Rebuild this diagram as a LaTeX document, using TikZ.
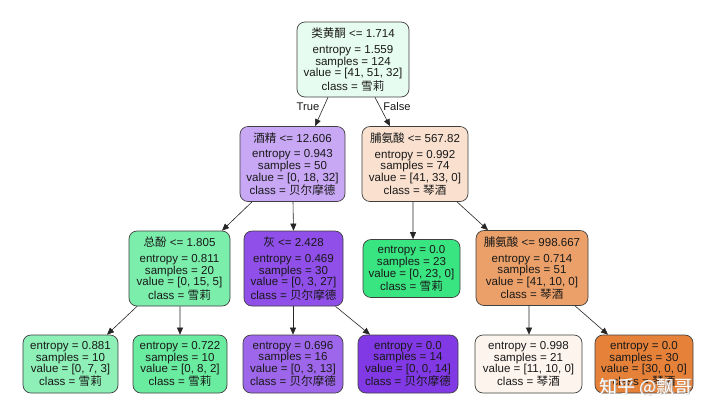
\documentclass[tikz,border=0pt]{standalone}
\usepackage{fontspec}
\setmainfont{Liberation Sans}
\newfontfamily\cjk{Noto Sans CJK SC}
\usetikzlibrary{arrows.meta,calc}
\newcommand\zhtxt[1]{{\cjk #1}}
\definecolor{cRoot}{HTML}{E7FCF0}
\definecolor{cJJ}{HTML}{C8A8F4}
\definecolor{cPA}{HTML}{F9E0CF}
\definecolor{cZF}{HTML}{7BEEAB}
\definecolor{cHui}{HTML}{8F4FE8}
\definecolor{cGreen}{HTML}{39E581}
\definecolor{cPB}{HTML}{EBA069}
\definecolor{cLa}{HTML}{8EF0B7}
\definecolor{cLb}{HTML}{6AECA0}
\definecolor{cLc}{HTML}{9E67EB}
\definecolor{cPurple}{HTML}{8139E5}
\definecolor{cLe}{HTML}{FDF4ED}
\definecolor{cOrange}{HTML}{E58139}
\tikzset{
  tn/.style={draw=black!75, line width=0.7bp, rounded corners=8bp, align=center,
    font=\fontsize{11.6}{11.8}\selectfont, inner sep=0pt, text=black!90},
  big/.style={minimum height=75bp},
  leaf/.style={minimum height=58bp},
  ed/.style={-{Triangle[length=7bp,width=6bp]}, line width=0.6bp, draw=black!85},
  elab/.style={font=\fontsize{11.2}{11}\selectfont, inner sep=0pt, text=black!90},
}
\begin{document}
\begin{tikzpicture}[x=1bp,y=-1bp]
\useasboundingbox[fill=white] (0,0) rectangle (720,416);
% level 1
\node[tn,big,fill=cRoot,minimum width=112bp] (root) at (353,59.5)
  {\zhtxt{类黄酮} <= 1.714\\[4bp] entropy = 1.559\\ samples = 124\\ value = [41, 51, 32]\\ class = \zhtxt{雪莉}};
% level 2
\node[tn,big,fill=cJJ,minimum width=105bp] (jj) at (292.5,164)
  {\zhtxt{酒精} <= 12.606\\[4bp] entropy = 0.943\\ samples = 50\\ value = [0, 18, 32]\\ class = \zhtxt{贝尔摩德}};
\node[tn,big,fill=cPA,minimum width=106bp] (pa) at (415,164)
  {\zhtxt{脯氨酸} <= 567.82\\[4bp] entropy = 0.992\\ samples = 74\\ value = [41, 33, 0]\\ class = \zhtxt{琴酒}};
% level 3
\node[tn,big,fill=cZF,minimum width=101bp] (zf) at (179.5,268.5)
  {\zhtxt{总酚} <= 1.805\\[4bp] entropy = 0.811\\ samples = 20\\ value = [0, 15, 5]\\ class = \zhtxt{雪莉}};
\node[tn,big,fill=cHui,minimum width=99bp] (hui) at (293.5,268.5)
  {\zhtxt{灰} <= 2.428\\[4bp] entropy = 0.469\\ samples = 30\\ value = [0, 3, 27]\\ class = \zhtxt{贝尔摩德}};
\node[tn,leaf,fill=cGreen,minimum width=97bp] (g23) at (411.5,268.5)
  {entropy = 0.0\\ samples = 23\\ value = [0, 23, 0]\\ class = \zhtxt{雪莉}};
\node[tn,big,fill=cPB,minimum width=112bp] (pb) at (532,268)
  {\zhtxt{脯氨酸} <= 998.667\\[4bp] entropy = 0.714\\ samples = 51\\ value = [41, 10, 0]\\ class = \zhtxt{琴酒}};
% level 4
\node[tn,leaf,fill=cLa,minimum width=95bp] (la) at (70.5,364)
  {entropy = 0.881\\ samples = 10\\ value = [0, 7, 3]\\ class = \zhtxt{雪莉}};
\node[tn,leaf,fill=cLb,minimum width=94bp] (lb) at (180,364)
  {entropy = 0.722\\ samples = 10\\ value = [0, 8, 2]\\ class = \zhtxt{雪莉}};
\node[tn,leaf,fill=cLc,minimum width=100bp] (lc) at (293,364)
  {entropy = 0.696\\ samples = 16\\ value = [0, 3, 13]\\ class = \zhtxt{贝尔摩德}};
\node[tn,leaf,fill=cPurple,minimum width=100bp] (ld) at (408,364)
  {entropy = 0.0\\ samples = 14\\ value = [0, 0, 14]\\ class = \zhtxt{贝尔摩德}};
\node[tn,leaf,fill=cLe,minimum width=107bp] (le) at (528.5,364)
  {entropy = 0.998\\ samples = 21\\ value = [11, 10, 0]\\ class = \zhtxt{琴酒}};
\node[tn,leaf,fill=cOrange,minimum width=98bp] (lf) at (644,364)
  {entropy = 0.0\\ samples = 30\\ value = [30, 0, 0]\\ class = \zhtxt{琴酒}};
% edges
\draw[ed] ([xshift=-25bp]root.south) -- ([xshift=22.5bp]jj.north);
\draw[ed] ([xshift=22bp]root.south) -- ([xshift=-25bp]pa.north);
\draw[ed] ([xshift=-40.5bp]jj.south) -- ([xshift=42.5bp]zf.north);
\draw[ed] ([xshift=0.5bp]jj.south) -- (hui.north);
\draw[ed] ([xshift=-2bp]pa.south) -- ([xshift=1.5bp]g23.north);
\draw[ed] ([xshift=42bp]pa.south) -- ([xshift=-44bp]pb.north);
\draw[ed] ([xshift=-42.5bp]zf.south) -- ([xshift=36.5bp]la.north);
\draw[ed] ([xshift=0.5bp]zf.south) -- (lb.north);
\draw[ed] ([xshift=-0.5bp]hui.south) -- (lc.north);
\draw[ed] ([xshift=42bp]hui.south) -- ([xshift=-38bp]ld.north);
\draw[ed] ([xshift=-3bp]pb.south) -- ([xshift=0.5bp]le.north);
\draw[ed] ([xshift=43bp]pb.south) -- ([xshift=-36bp]lf.north);
% edge labels
\node[elab] (tl) at (308,107) {True};
\node[elab] (fl) at (397,107) {False};
% watermark
\node[font=\cjk\fontsize{18}{18}\selectfont, text=black!30, inner sep=0pt] (wms) at (646.6,387.6) {知乎 @飘哥};
\node[font=\cjk\fontsize{18}{18}\selectfont, text=white, inner sep=0pt] (wm) at (646,387) {知乎 @飘哥};
\end{tikzpicture}
\end{document}
